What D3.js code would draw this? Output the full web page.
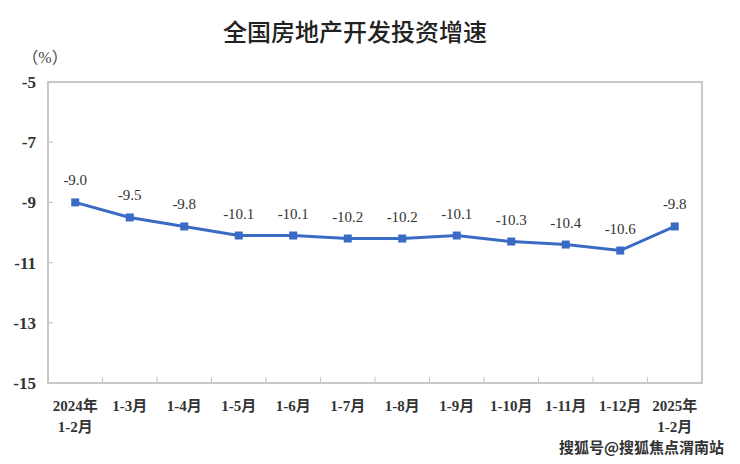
<!DOCTYPE html>
<html><head><meta charset="utf-8">
<script src="https://cdn.jsdelivr.net/npm/d3@7/dist/d3.min.js"></script>
<style>body{margin:0;background:#fff;} svg{display:block;}</style>
</head><body>
<svg id="c" width="740" height="464"></svg>
<script>
const categories = [["2024年","1-2月"],["1-3月"],["1-4月"],["1-5月"],["1-6月"],["1-7月"],["1-8月"],["1-9月"],["1-10月"],["1-11月"],["1-12月"],["2025年","1-2月"]];
const values = [-9.0,-9.5,-9.8,-10.1,-10.1,-10.2,-10.2,-10.1,-10.3,-10.4,-10.6,-9.8];
const labels = ["-9.0","-9.5","-9.8","-10.1","-10.1","-10.2","-10.2","-10.1","-10.3","-10.4","-10.6","-9.8"];
const yTicks = [-5,-7,-9,-11,-13,-15];

const svg = d3.select("#c");
const L=48,R=702,T=82,B=383;
const serif = "'Liberation Serif','DejaVu Serif',serif";
const cjk = "'Liberation Serif','Noto Sans CJK SC',serif";
const x = d3.scaleBand().domain(d3.range(categories.length)).range([L,R]);
const y = d3.scaleLinear().domain([-15,-5]).range([B,T]);

// frame
svg.append("rect").attr("x",L).attr("y",T).attr("width",R-L).attr("height",B-T)
  .attr("fill","none").attr("stroke","#c8c8c8").attr("stroke-width",2);

// y ticks
yTicks.forEach(v=>{
  if(v!==-5 && v!==-15) svg.append("line").attr("x1",L).attr("x2",L+5).attr("y1",y(v)).attr("y2",y(v)).attr("stroke","#c8c8c8").attr("stroke-width",1.2);
  svg.append("text").attr("x",36).attr("y",y(v)+6).attr("text-anchor","end")
    .attr("font-family",serif).attr("font-size",17).attr("fill","#333").attr("font-weight","bold").text(v);
});
// x ticks between categories
for(let i=1;i<categories.length;i++){
  const xx = x(i);
  svg.append("line").attr("x1",xx).attr("x2",xx).attr("y1",B).attr("y2",B-6).attr("stroke","#c8c8c8").attr("stroke-width",1.2);
}
// x labels
categories.forEach((c,i)=>{
  const cx = x(i)+x.bandwidth()/2;
  c.forEach((s,j)=>{
    svg.append("text").attr("x",cx).attr("y",411+j*21).attr("text-anchor","middle")
      .attr("font-family",cjk).attr("font-size",15).attr("font-weight","bold").attr("fill","#333").text(s);
  });
});

// line
const line = d3.line().x((d,i)=>x(i)+x.bandwidth()/2).y(d=>y(d));
svg.append("path").datum(values).attr("d",line).attr("fill","none").attr("stroke","#3a6bc4").attr("stroke-width",3);
svg.selectAll(".m").data(values).enter().append("rect")
  .attr("x",(d,i)=>x(i)+x.bandwidth()/2-4).attr("y",d=>y(d)-4).attr("width",8).attr("height",8).attr("fill","#3a6bc4");
svg.selectAll(".l").data(values).enter().append("text")
  .attr("x",(d,i)=>x(i)+x.bandwidth()/2).attr("y",d=>y(d)-17).attr("text-anchor","middle")
  .attr("font-family",serif).attr("font-size",15).attr("fill","#333").text((d,i)=>labels[i]);

// title
svg.append("text").attr("x",355).attr("y",41).attr("text-anchor","middle")
  .attr("font-family","'Noto Sans CJK SC',sans-serif").attr("font-size",24).attr("font-weight",500).attr("fill","#222").text("全国房地产开发投资增速");
svg.append("text").attr("x",45).attr("y",63).attr("text-anchor","middle")
  .attr("font-family",cjk).attr("font-size",16).attr("fill","#444").text("（%）");
// watermark
svg.append("text").attr("x",724).attr("y",453).attr("text-anchor","end")
  .attr("font-family","'Noto Sans CJK SC',sans-serif").attr("font-size",15).attr("font-weight","bold")
  .attr("fill","#333").attr("stroke","#fff").attr("stroke-width",2.5).attr("paint-order","stroke").text("搜狐号@搜狐焦点渭南站");
</script>
</body></html>
